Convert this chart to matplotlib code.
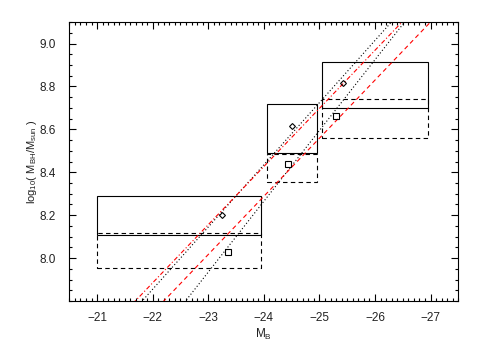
import matplotlib
matplotlib.use("Agg")
import matplotlib.pyplot as plt
from matplotlib.ticker import MultipleLocator
from matplotlib.patches import Rectangle

plt.rcParams['font.family'] = ['Liberation Sans', 'DejaVu Sans']
plt.rcParams['axes.unicode_minus'] = True

# magnitude bins (M_B ranges) and mass ranges for the two estimates
bin_lo = [-21.0, -24.05, -25.05]
bin_hi = [-23.95, -24.95, -26.95]
solid_lo = [8.11, 8.49, 8.70]
solid_hi = [8.29, 8.717, 8.916]
dash_lo = [7.953, 8.355, 8.558]
dash_hi = [8.115, 8.485, 8.741]

# points
diam_x = [-23.25, -24.50, -25.42]
diam_y = [8.202, 8.617, 8.816]
sq_x = [-23.35, -24.44, -25.30]
sq_y = [8.027, 8.437, 8.663]

# relations: log M = zp + slope * (M_B + 23)
red_zp = [8.156, 8.017]
red_slope = [-0.271, -0.271]
red_style = ['-.', '--']
blk_zp = [8.145, 7.935]
blk_slope = [-0.290, -0.330]

fig = plt.figure(figsize=(4.79, 3.46), dpi=100)
ax = fig.add_axes([0.1447, 0.130, 0.8123, 0.806])

for x0, x1, y0, y1 in zip(bin_lo, bin_hi, solid_lo, solid_hi):
    ax.add_patch(Rectangle((x0, y0), x1 - x0, y1 - y0, fill=False,
                           ec='black', lw=0.8))
for x0, x1, y0, y1 in zip(bin_lo, bin_hi, dash_lo, dash_hi):
    ax.add_patch(Rectangle((x0, y0), x1 - x0, y1 - y0, fill=False,
                           ec='black', lw=0.8, ls=(0, (4, 3))))

mb = [-20.0, -28.0]
for zp, s in zip(blk_zp, blk_slope):
    ax.plot(mb, [zp + s * (m + 23) for m in mb], color='black', lw=0.8,
            ls=(0, (1, 2)))
for zp, s, st in zip(red_zp, red_slope, red_style):
    if st == '-.':
        ls = (0, (4, 2, 1, 2))
    else:
        ls = (0, (4, 3))
    ax.plot(mb, [zp + s * (m + 23) for m in mb], color='red', lw=0.8, ls=ls)

ax.plot(diam_x, diam_y, ls='none', marker='D', ms=3, mfc='none',
        mec='black', mew=0.8)
ax.plot(sq_x, sq_y, ls='none', marker='s', ms=4.5, mfc='none',
        mec='black', mew=0.8)

ax.set_xlim(-20.5, -27.5)
ax.set_ylim(7.8, 9.1)
ax.xaxis.set_major_locator(MultipleLocator(1))
ax.xaxis.set_minor_locator(MultipleLocator(0.1))
ax.yaxis.set_major_locator(MultipleLocator(0.2))
ax.yaxis.set_minor_locator(MultipleLocator(0.05))
ax.set_yticks([8.0, 8.2, 8.4, 8.6, 8.8, 9.0])
ax.set_yticklabels(['8.0', '8.2', '8.4', '8.6', '8.8', '9.0'])
ax.tick_params(which='both', direction='in', top=True, right=True,
               labelsize=8.5, width=0.8, labelcolor='#222222')
ax.tick_params(axis='x', pad=8)
ax.tick_params(axis='y', pad=10)
ax.tick_params(which='major', length=5)
ax.tick_params(which='minor', length=2.5)
for sp in ax.spines.values():
    sp.set_linewidth(0.8)

ax.set_xlabel(r'M$_\mathregular{B}$', fontsize=8.5, labelpad=2,
              color='#222222')
ax.set_ylabel(r'log$_\mathregular{10}$( M$_\mathregular{BH}$/M$_\mathregular{sun}$ )',
              fontsize=8, color='#222222')
ax.yaxis.set_label_coords(-0.078, 0.5)

fig.savefig("out.png", dpi=100)
